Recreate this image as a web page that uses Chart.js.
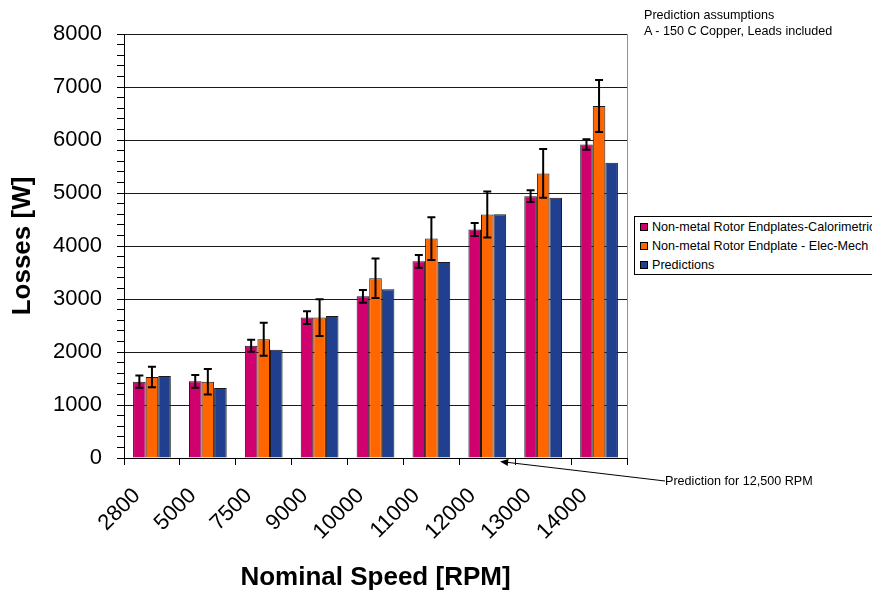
<!DOCTYPE html>
<html>
<head>
<meta charset="utf-8">
<script src="https://cdn.jsdelivr.net/npm/chart.js@4"></script>
<style>
  html, body { margin: 0; padding: 0; background: #fff; overflow: hidden; }
  #wrap { position: relative; width: 872px; height: 591px; }
  canvas { position: absolute; left: 0; top: 0; }
  .note { position: absolute; font-family: "Liberation Sans", Arial, sans-serif; font-size: 12.6px; color: #000; white-space: nowrap; line-height: 16.5px; }
  #legend { position: absolute; left: 634px; top: 216px; width: 260px; height: 57px; border: 1px solid #000; background: #fff;
            font-family: "Liberation Sans", Arial, sans-serif; font-size: 12.6px; white-space: nowrap; }
  #legend .row { position: absolute; left: 5px; height: 14px; line-height: 14px; }
  #legend .sw { display: inline-block; width: 6px; height: 6px; border: 1px solid #000; margin-right: 4px; vertical-align: 0px; }
</style>
</head>
<body>
<div id="wrap">
  <canvas id="c" width="872" height="591"></canvas>
  <div class="note" style="left:644px; top:6.5px;">Prediction assumptions<br>A - 150 C Copper, Leads included</div>
  <div class="note" style="left:665px; top:472.5px;">Prediction for 12,500 RPM</div>
  <div id="legend"></div>
</div>
<script>
const categories = ['2800', '5000', '7500', '9000', '10000', '11000', '12000', '13000', '14000'];
const seriesNames = ['Non-metal Rotor Endplates-Calorimetric', 'Non-metal Rotor Endplate - Elec-Mech', 'Predictions'];
const calorimetric = [1440, 1447, 2120, 2650, 3050, 3710, 4310, 4940, 5915];
const calorimetricErr = [115, 120, 113, 120, 120, 120, 122, 110, 100];
const elecMech = [1528, 1440, 2240, 2650, 3390, 4140, 4595, 5370, 6640];
const elecMechErr = [195, 240, 312, 346, 372, 402, 434, 460, 490];
const predictions = [1547, 1321, 2044, 2679, 3182, 3700, 4597, 4910, 5572];
const yTicks = [0, 1000, 2000, 3000, 4000, 5000, 6000, 7000, 8000];

const colors = ['#D0006F', '#FF6600', '#203F8F'];
const FONT = '"Liberation Sans", Arial, sans-serif';

// HTML legend
const legend = document.getElementById('legend');
seriesNames.forEach((n, i) => {
  const r = document.createElement('div');
  r.className = 'row';
  r.style.top = (3 + i * 19) + 'px';
  r.innerHTML = '<span class="sw" style="background:' + colors[i] + '"></span>' + n;
  legend.appendChild(r);
});

const errorBars = {
  id: 'errorBars',
  afterDatasetsDraw(chart) {
    const ctx = chart.ctx;
    const y = chart.scales.y;
    const errs = [calorimetricErr, elecMechErr, null];
    ctx.save();
    ctx.strokeStyle = '#000';
    ctx.lineWidth = 2;
    errs.forEach((e, di) => {
      if (!e) return;
      const meta = chart.getDatasetMeta(di);
      meta.data.forEach((bar, i) => {
        const v = chart.data.datasets[di].data[i];
        const x = bar.x;
        const yt = y.getPixelForValue(v + e[i]);
        const yb = y.getPixelForValue(v - e[i]);
        ctx.beginPath();
        ctx.moveTo(x, yt); ctx.lineTo(x, yb);
        ctx.moveTo(x - 4, yt); ctx.lineTo(x + 4, yt);
        ctx.moveTo(x - 4, yb); ctx.lineTo(x + 4, yb);
        ctx.stroke();
      });
    });
    // plot area right border
    const a = chart.chartArea;
    ctx.lineWidth = 1;
    ctx.strokeStyle = '#909090';
    ctx.beginPath();
    ctx.moveTo(Math.round(a.right) + 0.5, a.top);
    ctx.lineTo(Math.round(a.right) + 0.5, a.bottom);
    ctx.stroke();
    // annotation arrow pointing to 12,500 RPM position
    const xs = chart.scales.x;
    const p6 = xs.getPixelForValue(6), p7 = xs.getPixelForValue(7);
    const tipX = p6 + 0.23 * (p7 - p6);
    const tipY = a.bottom + 3.5;
    const tailX = 665, tailY = 481;
    const ang = Math.atan2(tailY - tipY, tailX - tipX);
    ctx.strokeStyle = '#000';
    ctx.fillStyle = '#000';
    ctx.beginPath();
    ctx.moveTo(tailX, tailY); ctx.lineTo(tipX + 6 * Math.cos(ang), tipY + 6 * Math.sin(ang));
    ctx.stroke();
    ctx.beginPath();
    ctx.moveTo(tipX, tipY);
    ctx.lineTo(tipX + 8 * Math.cos(ang) - 3.5 * Math.sin(ang), tipY + 8 * Math.sin(ang) + 3.5 * Math.cos(ang));
    ctx.lineTo(tipX + 8 * Math.cos(ang) + 3.5 * Math.sin(ang), tipY + 8 * Math.sin(ang) - 3.5 * Math.cos(ang));
    ctx.closePath();
    ctx.fill();
    ctx.restore();
  }
};

const mk = (label, data, i) => ({
  label, data,
  backgroundColor: colors[i],
  borderColor: '#1a1a1a',
  borderWidth: 1,
  barPercentage: 1.0,
  categoryPercentage: 0.675
});

new Chart(document.getElementById('c'), {
  type: 'bar',
  data: {
    labels: categories,
    datasets: [
      mk(seriesNames[0], calorimetric, 0),
      mk(seriesNames[1], elecMech, 1),
      mk(seriesNames[2], predictions, 2)
    ]
  },
  options: {
    responsive: false,
    animation: false,
    devicePixelRatio: 1,
    layout: { padding: { top: 34, right: 245, left: 0, bottom: 0 } },
    plugins: { legend: { display: false }, tooltip: { enabled: false } },
    scales: {
      x: {
        afterFit: s => { s.height = 133; },
        grid: { offset: true, drawOnChartArea: false, color: '#000', tickLength: 7, tickColor: '#000' },
        border: { color: '#000', width: 1 },
        ticks: { color: '#000', font: { family: FONT, size: 22 }, maxRotation: 45, minRotation: 45, labelOffset: -15, padding: 18, autoSkip: false },
        title: { display: true, text: 'Nominal Speed [RPM]', color: '#000', font: { family: FONT, size: 26, weight: 'bold', lineHeight: 1.05 }, padding: { top: 0, bottom: 0 } }
      },
      y: {
        min: 0, max: 8000,
        afterFit: s => { s.width = 124; },
        afterBuildTicks: s => {
          const t = [];
          for (let v = 0; v <= 8000; v += 200) t.push({ value: v });
          s.ticks = t;
        },
        grid: {
          color: c => (c.tick && c.tick.value % 1000 === 0 && c.tick.value !== 0) ? '#1a1a1a' : 'rgba(0,0,0,0)',
          tickColor: '#000',
          tickLength: 7
        },
        border: { color: '#000', width: 1 },
        ticks: {
          autoSkip: false,
          color: '#000',
          padding: 15,
          font: { family: FONT, size: 22 },
          callback: v => yTicks.includes(v) ? String(v) : ''
        },
        title: { display: true, text: 'Losses [W]', color: '#000', font: { family: FONT, size: 26, weight: 'bold' }, padding: { top: 7, bottom: 0 } }
      }
    }
  },
  plugins: [errorBars]
});
</script>
</body>
</html>
